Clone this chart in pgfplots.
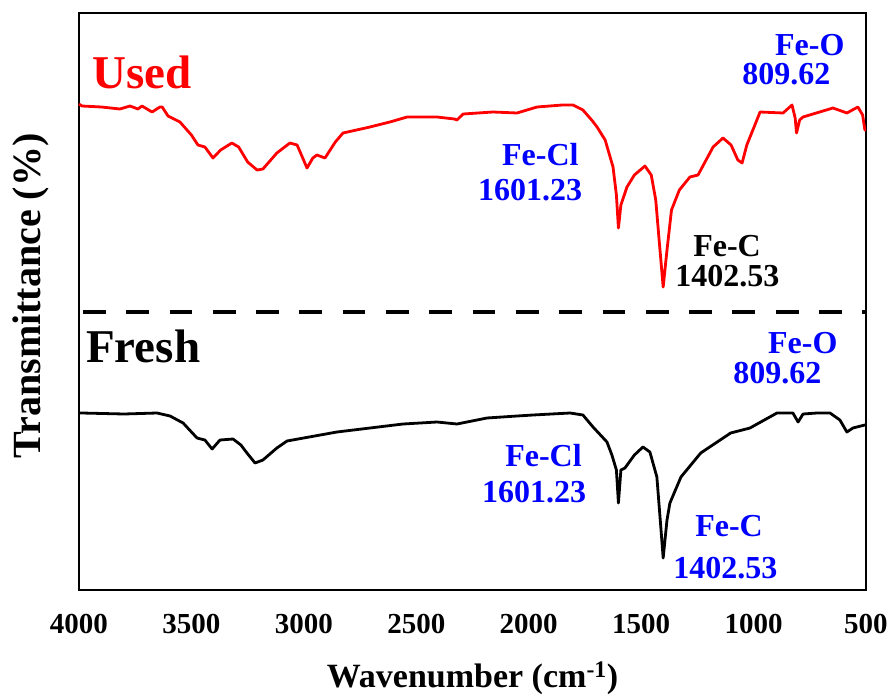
\documentclass[border=0pt]{standalone}
\usepackage{fontspec}
\setmainfont{Liberation Serif}
\usepackage{pgfplots}
\pgfplotsset{compat=1.18}
\definecolor{myred}{RGB}{255,0,0}
\definecolor{myblue}{RGB}{0,0,255}
\begin{document}
\begin{tikzpicture}
\begin{axis}[
  name=ax,
  scale only axis,
  width=787pt, height=577pt,
  x dir=reverse,
  xmin=500, xmax=4000,
  y dir=reverse,
  ymin=13, ymax=590,
  xtick={500,1000,...,4000},
  ytick=\empty,
  major tick length=0pt,
  axis line style={line width=2.8pt},
  clip=false,
  /pgf/number format/assume math mode=true,
  /pgf/number format/1000 sep={},
  xticklabel style={font=\fontsize{29}{29}\selectfont\bfseries, anchor=base, yshift=-43pt},
  xlabel={Wavenumber (cm\textsuperscript{-1})},
  xlabel style={font=\fontsize{34}{34}\selectfont\bfseries, at={(axis description cs:0.5,0)}, anchor=base, yshift=-97pt},
  ylabel={Transmittance (\%)},
  ylabel style={font=\fontsize{40}{40}\selectfont\bfseries, at={(axis description cs:0,0.51)}, anchor=base, yshift=38pt},
]
% Used (red)
\addplot[color=myred, line width=2.8pt, line join=round] coordinates {
(4000,104) (3987,106) (3900,107) (3818,109) (3773,106) (3738,109) (3720,106)
(3675,112) (3640,107) (3630,107) (3604,116) (3551,122) (3500,135) (3471,145)
(3440,147) (3404,158) (3370,150) (3320,143) (3290,147) (3250,162) (3208,170)
(3182,169) (3120,153) (3062,143) (3030,145) (3005,158) (2986,168) (2960,158)
(2942,155) (2906,158) (2860,142) (2826,133) (2706,127) (2617,122) (2541,117)
(2408,117) (2330,119) (2319,120) (2292,114) (2159,112) (2052,113) (1963,107)
(1850,105) (1803,105) (1759,110) (1720,120) (1696,127) (1660,140) (1625,167)
(1610,195) (1601,228) (1590,205) (1563,187) (1530,175) (1483,166) (1455,175)
(1435,200) (1420,240) (1402,287) (1385,250) (1365,210) (1330,190) (1283,177)
(1247,175) (1180,147) (1136,138) (1100,145) (1070,160) (1051,163) (1030,145)
(971,112) (869,113) (829,105) (815,118) (809,133) (795,120) (780,117)
(647,108) (585,113) (536,107) (515,115) (505,130) (500,130)
};
% Fresh (black)
\addplot[color=black, line width=2.8pt, line join=round] coordinates {
(4000,413) (3987,413) (3800,414) (3653,413) (3595,416) (3537,423) (3475,438)
(3440,440) (3408,449) (3373,440) (3315,439) (3280,445) (3253,453) (3217,463)
(3182,460) (3120,448) (3075,441) (2853,432) (2706,428) (2559,424) (2408,422)
(2319,424) (2186,418) (2052,416) (1981,415) (1816,413) (1759,415) (1714,427)
(1652,442) (1630,455) (1610,470) (1601,503) (1590,470) (1572,468) (1530,455)
(1492,447) (1461,452) (1430,477) (1415,520) (1402,558) (1385,520) (1372,503)
(1323,477) (1235,453) (1102,433) (1016,428) (896,413) (825,413) (802,422)
(780,414) (718,413) (660,413) (616,420) (585,432) (558,428) (505,425) (500,425)
};
% separator
\addplot[color=black, line width=3.5pt, dash pattern=on 22.7pt off 20.6pt, dash phase=-4pt] coordinates {(4000,312) (500,312)};
% labels
\node[anchor=base west, inner sep=0, text=myred, font=\fontsize{47}{47}\selectfont\bfseries] at (axis cs:3942,88) {Used};
\node[anchor=base west, inner sep=0, text=black, font=\fontsize{47}{47}\selectfont\bfseries] at (axis cs:3969,362) {Fresh};
\begin{scope}[every node/.style={anchor=base west, inner sep=0, font=\fontsize{32}{32}\selectfont\bfseries}]
\node[text=myblue] at (axis cs:905,55) {Fe-O};
\node[text=myblue] at (axis cs:1051,84) {809.62};
\node[text=myblue] at (axis cs:2119,165) {Fe-Cl};
\node[text=myblue] at (axis cs:2226,200) {1601.23};
\node[text=black] at (axis cs:1269,256) {Fe-C};
\node[text=black] at (axis cs:1349,286) {1402.53};
\node[text=myblue] at (axis cs:936,353) {Fe-O};
\node[text=myblue] at (axis cs:1091,383) {809.62};
\node[text=myblue] at (axis cs:2105,466) {Fe-Cl};
\node[text=myblue] at (axis cs:2208,502) {1601.23};
\node[text=myblue] at (axis cs:1260,536) {Fe-C};
\node[text=myblue] at (axis cs:1358,578) {1402.53};
\end{scope}
\end{axis}
\pgfresetboundingbox
\path[use as bounding box] (ax.south west) ++(-79pt,-108pt) rectangle ++(893pt,698pt);
\end{tikzpicture}
\end{document}
